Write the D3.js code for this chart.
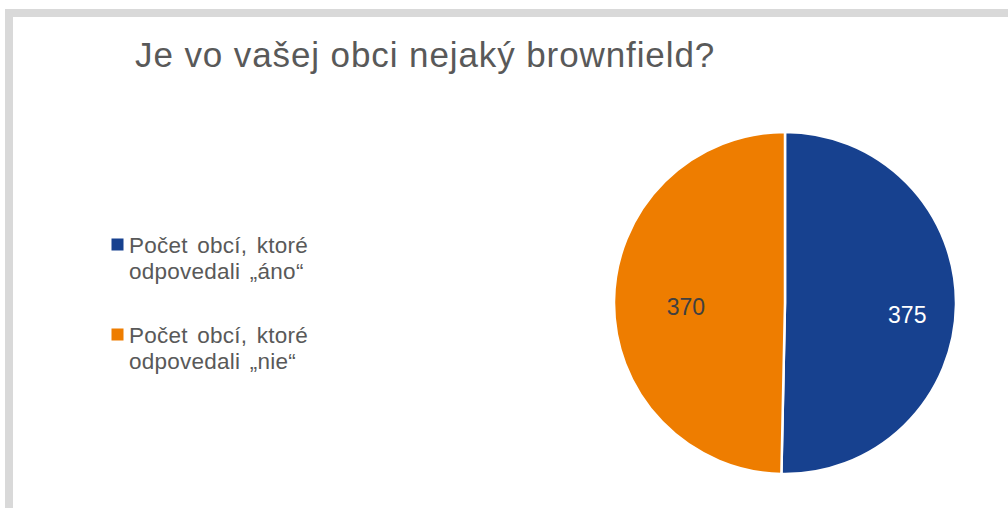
<!DOCTYPE html>
<html>
<head>
<meta charset="utf-8">
<script src="https://cdn.jsdelivr.net/npm/d3@7"></script>
<style>
  html, body { margin: 0; padding: 0; background: #fff; overflow: hidden; }
  text { font-family: "Liberation Sans", Arial, sans-serif; }
</style>
</head>
<body>
<div id="container"></div>
<script>
"use strict";

const chartTitle = "Je vo vašej obci nejaký brownfield?";
const categories = ["ano", "nie"];
const values = [375, 370];
const legendLines = [
  ["Počet obcí, ktoré", "odpovedali „áno“"],
  ["Počet obcí, ktoré", "odpovedali „nie“"]
];
const colors = ["#17418f", "#ee7d00"];
const labelColors = ["#ffffff", "#404040"];

const width = 1008;
const height = 508;

const svg = d3.select("#container")
  .append("svg")
  .attr("width", width)
  .attr("height", height);

// Gray frame round the chart area (runs off the right and bottom edges).
svg.append("rect")
  .attr("x", 9)
  .attr("y", 13)
  .attr("width", width + 20)
  .attr("height", height + 20)
  .attr("fill", "#fff")
  .attr("stroke", "#d9d9d9")
  .attr("stroke-width", 8);

// Title. The original's glyphs run a little wider than Liberation Sans.
svg.append("text")
  .attr("x", 135)
  .attr("y", 67)
  .attr("fill", "#595959")
  .style("font-size", "35px")
  .style("letter-spacing", "0.9px")
  .text(chartTitle);

// Pie.
const cx = 785;
const cy = 303;
const radius = 171;

const data = categories.map((c, i) => ({ key: c, value: values[i], index: i }));

const pie = d3.pie()
  .sort(null)
  .value((d) => d.value);

const arc = d3.arc()
  .innerRadius(0)
  .outerRadius(radius);

const g = svg.append("g").attr("transform", `translate(${cx}, ${cy})`);

const arcs = pie(data);

g.selectAll("path")
  .data(arcs)
  .enter()
  .append("path")
  .attr("d", arc)
  .attr("fill", (d) => colors[d.data.index])
  .attr("stroke", "#fff")
  .attr("stroke-width", 2.5)
  .attr("stroke-linejoin", "round");

// Excel puts the labels at slightly different depths; mimic that.
const labelDepth = [0.715, 0.58];
const labelDrop = [10, 5];

g.selectAll(".slice-label")
  .data(arcs)
  .enter()
  .append("text")
  .attr("class", "slice-label")
  .attr("transform", (d) => {
    const r = radius * labelDepth[d.data.index];
    const [x, y] = d3.arc().innerRadius(r).outerRadius(r).centroid(d);
    return `translate(${x}, ${y + labelDrop[d.data.index]})`;
  })
  .attr("text-anchor", "middle")
  .attr("dy", "0.36em")
  .attr("fill", (d) => labelColors[d.data.index])
  .style("font-size", "23px")
  .text((d) => d.data.value);

// Legend.
const legendY = d3.scaleBand()
  .domain(categories)
  .range([238, 418]);

const legend = svg.selectAll(".legend")
  .data(data)
  .enter()
  .append("g")
  .attr("class", "legend")
  .attr("transform", (d) => `translate(111, ${legendY(d.key)})`);

legend.append("rect")
  .attr("x", 0.5)
  .attr("y", 0.5)
  .attr("width", 12)
  .attr("height", 12)
  .attr("fill", (d) => colors[d.index]);

legend.append("text")
  .attr("fill", "#595959")
  .style("font-size", "22.5px")
  .style("letter-spacing", "0.25px")
  .style("word-spacing", "3px")
  .selectAll("tspan")
  .data((d) => legendLines[d.index])
  .enter()
  .append("tspan")
  .attr("x", 18)
  .attr("y", (d, i) => 15 + i * 25.5)
  .text((d) => d);
</script>
</body>
</html>
